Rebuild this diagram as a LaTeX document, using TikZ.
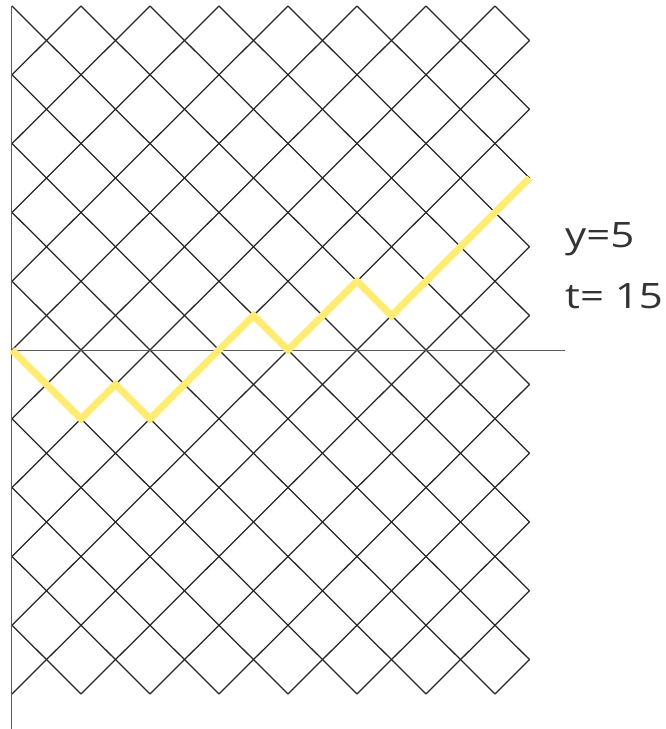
\documentclass[tikz,border=0pt]{standalone}
\usepackage{fontspec}
\setmainfont{Open Sans}
\definecolor{gridc}{HTML}{262626}
\definecolor{axisc}{HTML}{5A5A5A}
\definecolor{pathyellow}{RGB}{255,236,112}
\definecolor{textc}{HTML}{333333}
\tikzset{
  gridline/.style={draw=gridc, line width=1.25pt},
  axisline/.style={draw=axisc, line width=1pt},
  walk/.style={draw=pathyellow, line width=7pt, line cap=butt, line join=miter},
  lbl/.style={anchor=base west, inner sep=0pt, text=textc, font=\fontsize{35}{42}\selectfont}
}
\begin{document}
\begin{tikzpicture}[x=34.5pt, y=34.4pt]
\useasboundingbox (-12pt,-379pt) rectangle (653pt,350pt);
\begin{scope}
  \clip (0,-10) rectangle (15,10);
  \foreach \c in {-10,-8,...,26} {
    \draw[gridline] (\c-10,-10) -- (\c+10,10);
    \draw[gridline] (\c+10,-10) -- (\c-10,10);
  }
\end{scope}
\draw[axisline] (0,10) -- (0pt,-379pt);
\draw[axisline] (0,0) -- (553pt,0pt);
\draw[walk] (0,0) -- (1,-1) -- (2,-2) -- (3,-1) -- (4,-2) -- (5,-1) -- (6,0) -- (7,1)
  -- (8,0) -- (9,1) -- (10,2) -- (11,1) -- (12,2) -- (13,3) -- (14,4) -- (15,5);
\node[lbl] (ylabel) at (553pt,103pt) {\scalebox{1.2}[1]{y=5}};
\node[lbl] (tlabel) at (553pt,42pt) {\scalebox{1.2}[1]{t= 15}};
\end{tikzpicture}
\end{document}
